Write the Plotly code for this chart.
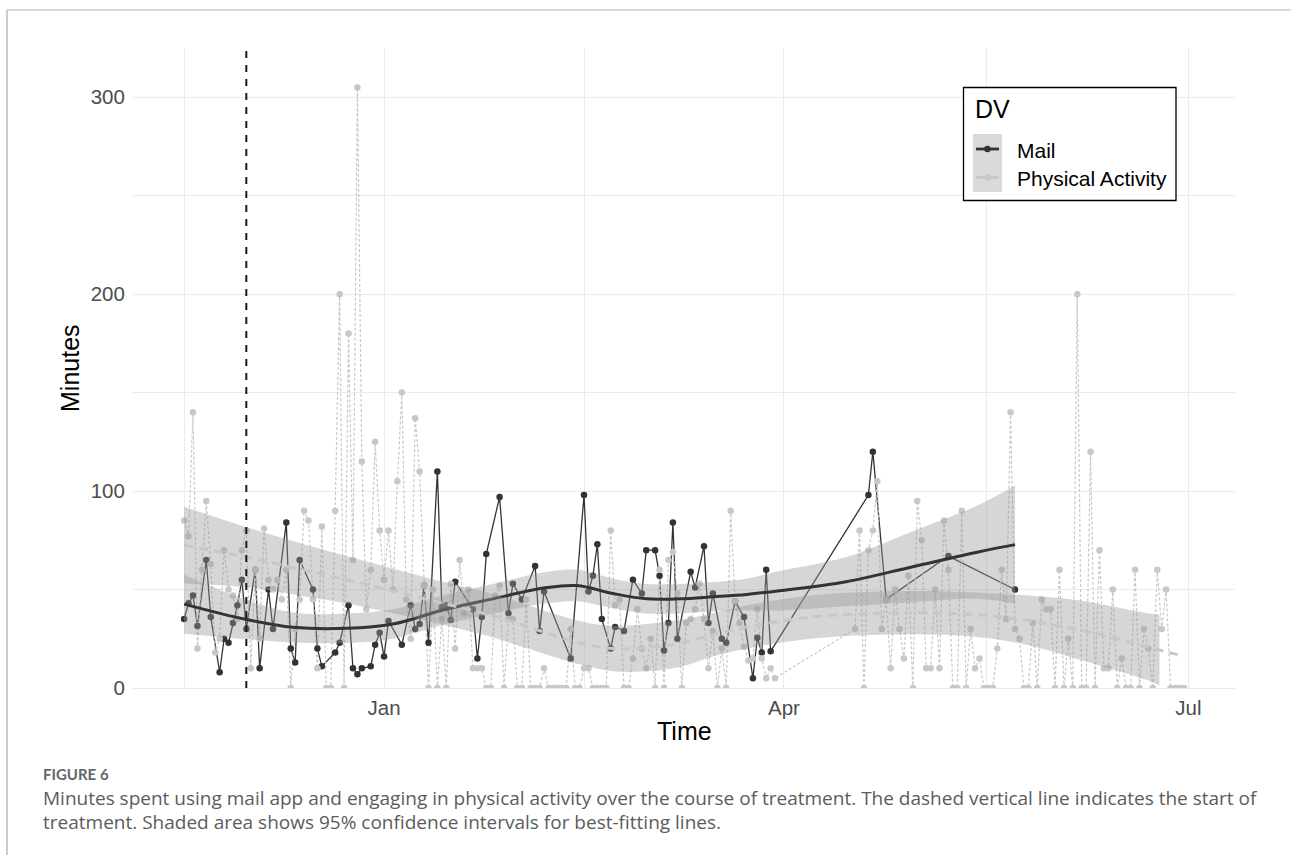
import pandas as pd
import plotly.graph_objects as go

# ---------------- data ----------------
START_DATE = "2018-11-17"
TREATMENT_START = "2018-12-01"

mail_day = [0, 1, 2, 3, 5, 6, 8, 9, 10, 11, 12, 13, 14, 16, 17, 19, 20, 23, 24, 25,
            26, 29, 30, 31, 34, 35, 37, 38, 39, 40, 42, 43, 44, 45, 46, 49, 51, 52, 53, 54,
            55, 57, 58, 59, 60, 61, 65, 66, 67, 68, 71, 73, 74, 76, 79, 80, 81, 87, 90, 91,
            92, 93, 94, 96, 97, 99, 101, 103, 104, 106, 107, 108, 109, 110, 111, 114, 115, 117, 118, 119,
            121, 122, 124, 126, 128, 129, 130, 131, 132, 154, 155, 158, 172, 187]
mail_min = [35, 43, 47, 31.5, 65, 36, 8, 25, 23, 33, 42, 55, 30, 60, 10, 50, 30, 84, 20, 13,
            65, 50, 20, 11, 18, 23, 42, 10, 7, 10, 11, 22, 28, 16, 34, 22, 42, 30, 32.5, 52,
            23, 110, 41, 42, 34.5, 54, 40, 15, 36, 68, 97, 38, 53, 45, 62, 29, 49, 15, 98, 49,
            57, 73, 35, 20, 31, 29, 55, 48, 70, 70, 57, 19, 33, 84, 25, 59, 51, 72, 33, 48,
            25, 23, 44, 36, 5, 25.5, 18, 60, 18.6, 98, 120, 45, 67, 50]

pa_day = list(range(0, 134)) + list(range(151, 226))
pa_min = [85, 77, 140, 20, 60, 95, 63, 18, 25, 70,
          50, 47, 35, 70, 80, 10, 60, 25, 81, 55,
          50, 55, 45, 60, 0, 30, 45, 90, 85, 45,
          10, 82, 0, 0, 90, 200, 0, 180, 65, 305,
          115, 40, 60, 125, 80, 55, 80, 50, 105, 150,
          45, 25, 137, 110, 52, 0, 50, 0, 35, 0,
          53, 20, 65, 38, 50, 10, 10, 10, 0, 0,
          47, 52, 0, 35, 35, 0, 0, 45, 0, 0,
          0, 10, 0, 0, 0, 0, 0, 30, 0, 0,
          10, 10, 0, 0, 0, 0, 80, 42, 45, 0,
          0, 15, 40, 20, 10, 25, 0, 60, 0, 65,
          69, 48, 0, 33, 35, 40, 53, 35, 10, 29,
          0, 20, 0, 90, 44, 33, 21, 14, 15, 40,
          15, 5, 10, 5,
          30, 80, 0, 70, 80, 105, 30, 45, 10, 50,
          30, 15, 57, 0, 95, 75, 10, 10, 50, 10,
          85, 60, 0, 0, 90, 0, 30, 10, 15, 0,
          0, 0, 20, 60, 35, 140, 30, 25, 0, 0,
          33, 0, 45, 40, 40, 0, 60, 0, 25, 0,
          200, 0, 0, 120, 0, 70, 10, 10, 50, 0,
          15, 0, 0, 60, 0, 30, 20, 0, 60, 30,
          50, 0, 0, 0, 0]

# best-fitting (loess) lines and 95% CI half-widths
mail_fit_day = [0, 13.8, 24.5, 36.6, 47, 58.3, 68.9, 81.6, 88.4, 96.5, 104, 111.6, 119, 126.6, 134, 149, 164, 179, 187]
mail_fit = [42.6, 34.9, 30.8, 30.3, 32.5, 39.6, 45, 51, 52, 48, 45.3, 45.3, 46.3, 47.5, 49.4, 54, 61.6, 69.2, 72.8]
mail_ci = [15, 10, 7.6, 7.5, 7.5, 7.5, 7.5, 8, 8, 7.5, 7.5, 7.5, 7.5, 8, 10, 12.5, 18, 24, 30]

pa_fit_day = [0, 15, 28.6, 36.5, 54.7, 69, 74, 89, 96.5, 104, 111.6, 119, 126.7, 140.9, 156.6, 171.7, 186.5, 201.6, 216.7, 219.5, 225]
pa_fit = [72.6, 66, 59, 55, 45, 37, 33.5, 23, 20, 20.5, 22.7, 27, 31, 36, 38, 38, 35.4, 29.4, 21, 19.3, 16.2]
pa_ci = [19.5, 15, 13, 12, 11, 11, 11, 11, 11.5, 12, 12, 11, 11, 11, 11, 11, 12, 15, 17, 18, 19]

x_ticks = ["2018-11-17", "2019-01-01", "2019-02-15", "2019-04-01", "2019-05-16 12:00", "2019-07-01"]
x_labels = ["", "Jan", "", "Apr", "", "Jul"]
y_ticks = [0, 50, 100, 150, 200, 250, 300]
y_labels = ["0", "", "100", "", "200", "", "300"]

# ---------------- helpers ----------------
start = pd.Timestamp(START_DATE)


def to_dates(days):
    return [start + pd.Timedelta(days=float(d)) for d in days]


MAIL_COL = "#333333"
PA_COL = "#c8c8c8"
BAND = "rgba(153,153,153,0.4)"
FONT = "Liberation Sans, Arial, sans-serif"
CAP_FONT = "Open Sans, sans-serif"

W_FIG, H_FIG = 1291, 855
L, R, T, B = 133, 56, 48, 167
PW, PH = W_FIG - L - R, H_FIG - T - B


def fx(p):
    return (p - L) / PW


def fy(p):
    return (T + PH - p) / PH


fig = go.Figure()

mail_x = to_dates(mail_day)
pa_x = to_dates(pa_day)

# raw lines
fig.add_trace(go.Scatter(x=mail_x, y=mail_min, mode="lines", name="Mail",
                         line=dict(color=MAIL_COL, width=1.3), showlegend=False, hoverinfo="skip"))
fig.add_trace(go.Scatter(x=pa_x, y=pa_min, mode="lines", name="Physical Activity",
                         line=dict(color=PA_COL, width=1.2, dash="3px,2px"), showlegend=False, hoverinfo="skip"))
# raw points
fig.add_trace(go.Scatter(x=mail_x, y=mail_min, mode="markers", name="Mail",
                         marker=dict(color=MAIL_COL, size=6.5), showlegend=False))
fig.add_trace(go.Scatter(x=pa_x, y=pa_min, mode="markers", name="Physical Activity",
                         marker=dict(color=PA_COL, size=6.5), showlegend=False))


def add_smooth(days, fit, ci, color, dash):
    xs = to_dates(days)
    lo = [f - c for f, c in zip(fit, ci)]
    hi = [f + c for f, c in zip(fit, ci)]
    keep = [i for i in range(len(days)) if lo[i] >= 0]
    bx = [xs[i] for i in keep]
    fig.add_trace(go.Scatter(x=bx, y=[lo[i] for i in keep], mode="lines",
                             line=dict(width=0, shape="spline", color="rgba(0,0,0,0)"),
                             showlegend=False, hoverinfo="skip"))
    fig.add_trace(go.Scatter(x=bx, y=[hi[i] for i in keep], mode="lines", fill="tonexty",
                             fillcolor=BAND, line=dict(width=0, shape="spline", color="rgba(0,0,0,0)"),
                             showlegend=False, hoverinfo="skip"))
    fig.add_trace(go.Scatter(x=xs, y=fit, mode="lines",
                             line=dict(color=color, width=3, shape="spline", dash=dash),
                             showlegend=False, hoverinfo="skip"))


add_smooth(mail_fit_day, mail_fit, mail_ci, MAIL_COL, "solid")
add_smooth(pa_fit_day, pa_fit, pa_ci, PA_COL, "9px,6px")

shapes = []
# treatment start
shapes.append(dict(type="line", xref="x", yref="paper", x0=TREATMENT_START, x1=TREATMENT_START,
                   y0=0, y1=1, line=dict(color="#1a1a1a", width=2, dash="7px,7px"), layer="above"))
# figure frame
shapes.append(dict(type="line", xref="paper", yref="paper", x0=fx(7), x1=fx(1291), y0=fy(10), y1=fy(10),
                   line=dict(color="#cccccc", width=1.5)))
shapes.append(dict(type="line", xref="paper", yref="paper", x0=fx(7), x1=fx(7), y0=fy(10), y1=fy(855),
                   line=dict(color="#cccccc", width=2)))
# legend box
shapes.append(dict(type="rect", xref="paper", yref="paper", x0=fx(963.5), x1=fx(1176), y0=fy(200.5), y1=fy(87.5),
                   fillcolor="white", line=dict(color="black", width=1.3), layer="above"))
shapes.append(dict(type="rect", xref="paper", yref="paper", x0=fx(973), x1=fx(1002), y0=fy(192), y1=fy(134),
                   fillcolor="#dadada", line=dict(width=0), layer="above"))
for yy, col in [(149, MAIL_COL), (177.3, PA_COL)]:
    shapes.append(dict(type="line", xref="paper", yref="paper", x0=fx(976), x1=fx(999), y0=fy(yy), y1=fy(yy),
                       line=dict(color=col, width=2.8), layer="above"))
    shapes.append(dict(type="circle", xref="paper", yref="paper", x0=fx(987.5 - 3.3), x1=fx(987.5 + 3.3),
                       y0=fy(yy + 3.3), y1=fy(yy - 3.3), fillcolor=col, line=dict(width=0), layer="above"))

annotations = [
    dict(text="DV", x=fx(973), y=fy(109.5), xref="paper", yref="paper", xanchor="left", yanchor="middle",
         showarrow=False, font=dict(family=FONT, size=25, color="black")),
    dict(text="Mail", x=fx(1015), y=fy(150), xref="paper", yref="paper", xanchor="left", yanchor="middle",
         showarrow=False, font=dict(family=FONT, size=21, color="black")),
    dict(text="Physical Activity", x=fx(1015), y=fy(178), xref="paper", yref="paper", xanchor="left",
         yanchor="middle", showarrow=False, font=dict(family=FONT, size=21, color="black")),
    dict(text="Time", x=fx(684), y=fy(730.5), xref="paper", yref="paper", xanchor="center", yanchor="middle",
         showarrow=False, font=dict(family=FONT, size=25, color="black")),
    dict(text="Minutes", x=fx(70), y=fy(368), xref="paper", yref="paper", xanchor="center", yanchor="middle",
         textangle=-90, showarrow=False, font=dict(family=FONT, size=25, color="black")),
    dict(text="<b>FIGURE 6</b>", x=fx(40.5), y=fy(774), xref="paper", yref="paper", xanchor="left",
         yanchor="middle", showarrow=False, font=dict(family="Lato, sans-serif", size=15, color="#666666")),
    dict(text="Minutes spent using mail app and engaging in physical activity over the course of treatment. "
              "The dashed vertical line indicates the start of",
         x=fx(40.5), y=fy(798), xref="paper", yref="paper", xanchor="left", yanchor="middle",
         showarrow=False, font=dict(family=CAP_FONT, size=19, color="#5c5c5c")),
    dict(text="treatment. Shaded area shows 95% confidence intervals for best-fitting lines.",
         x=fx(40.5), y=fy(822), xref="paper", yref="paper", xanchor="left", yanchor="middle",
         showarrow=False, font=dict(family=CAP_FONT, size=19, color="#5c5c5c")),
]

fig.update_layout(
    width=W_FIG, height=H_FIG,
    margin=dict(l=L, r=R, t=T, b=B, pad=0),
    paper_bgcolor="white", plot_bgcolor="white",
    showlegend=False,
    shapes=shapes, annotations=annotations,
    xaxis=dict(type="date", range=["2018-11-05 12:00", "2019-07-11 12:00"],
               tickmode="array", tickvals=x_ticks, ticktext=x_labels,
               showgrid=True, gridcolor="#ebebeb", gridwidth=1, zeroline=False, showline=False,
               ticks="outside", ticklen=1, tickcolor="rgba(0,0,0,0)",
               tickfont=dict(family=FONT, size=20.5, color="#4d4d4d")),
    yaxis=dict(range=[0, 325], tickmode="array", tickvals=y_ticks, ticktext=y_labels,
               showgrid=True, gridcolor="#ebebeb", gridwidth=1, zeroline=True, zerolinecolor="#ebebeb",
               zerolinewidth=1, showline=False,
               ticks="outside", ticklen=3, tickcolor="rgba(0,0,0,0)",
               tickfont=dict(family=FONT, size=20.5, color="#4d4d4d")),
)

fig.write_html("out.html", config={"displayModeBar": False},
               post_script="document.body.style.margin='0';")
